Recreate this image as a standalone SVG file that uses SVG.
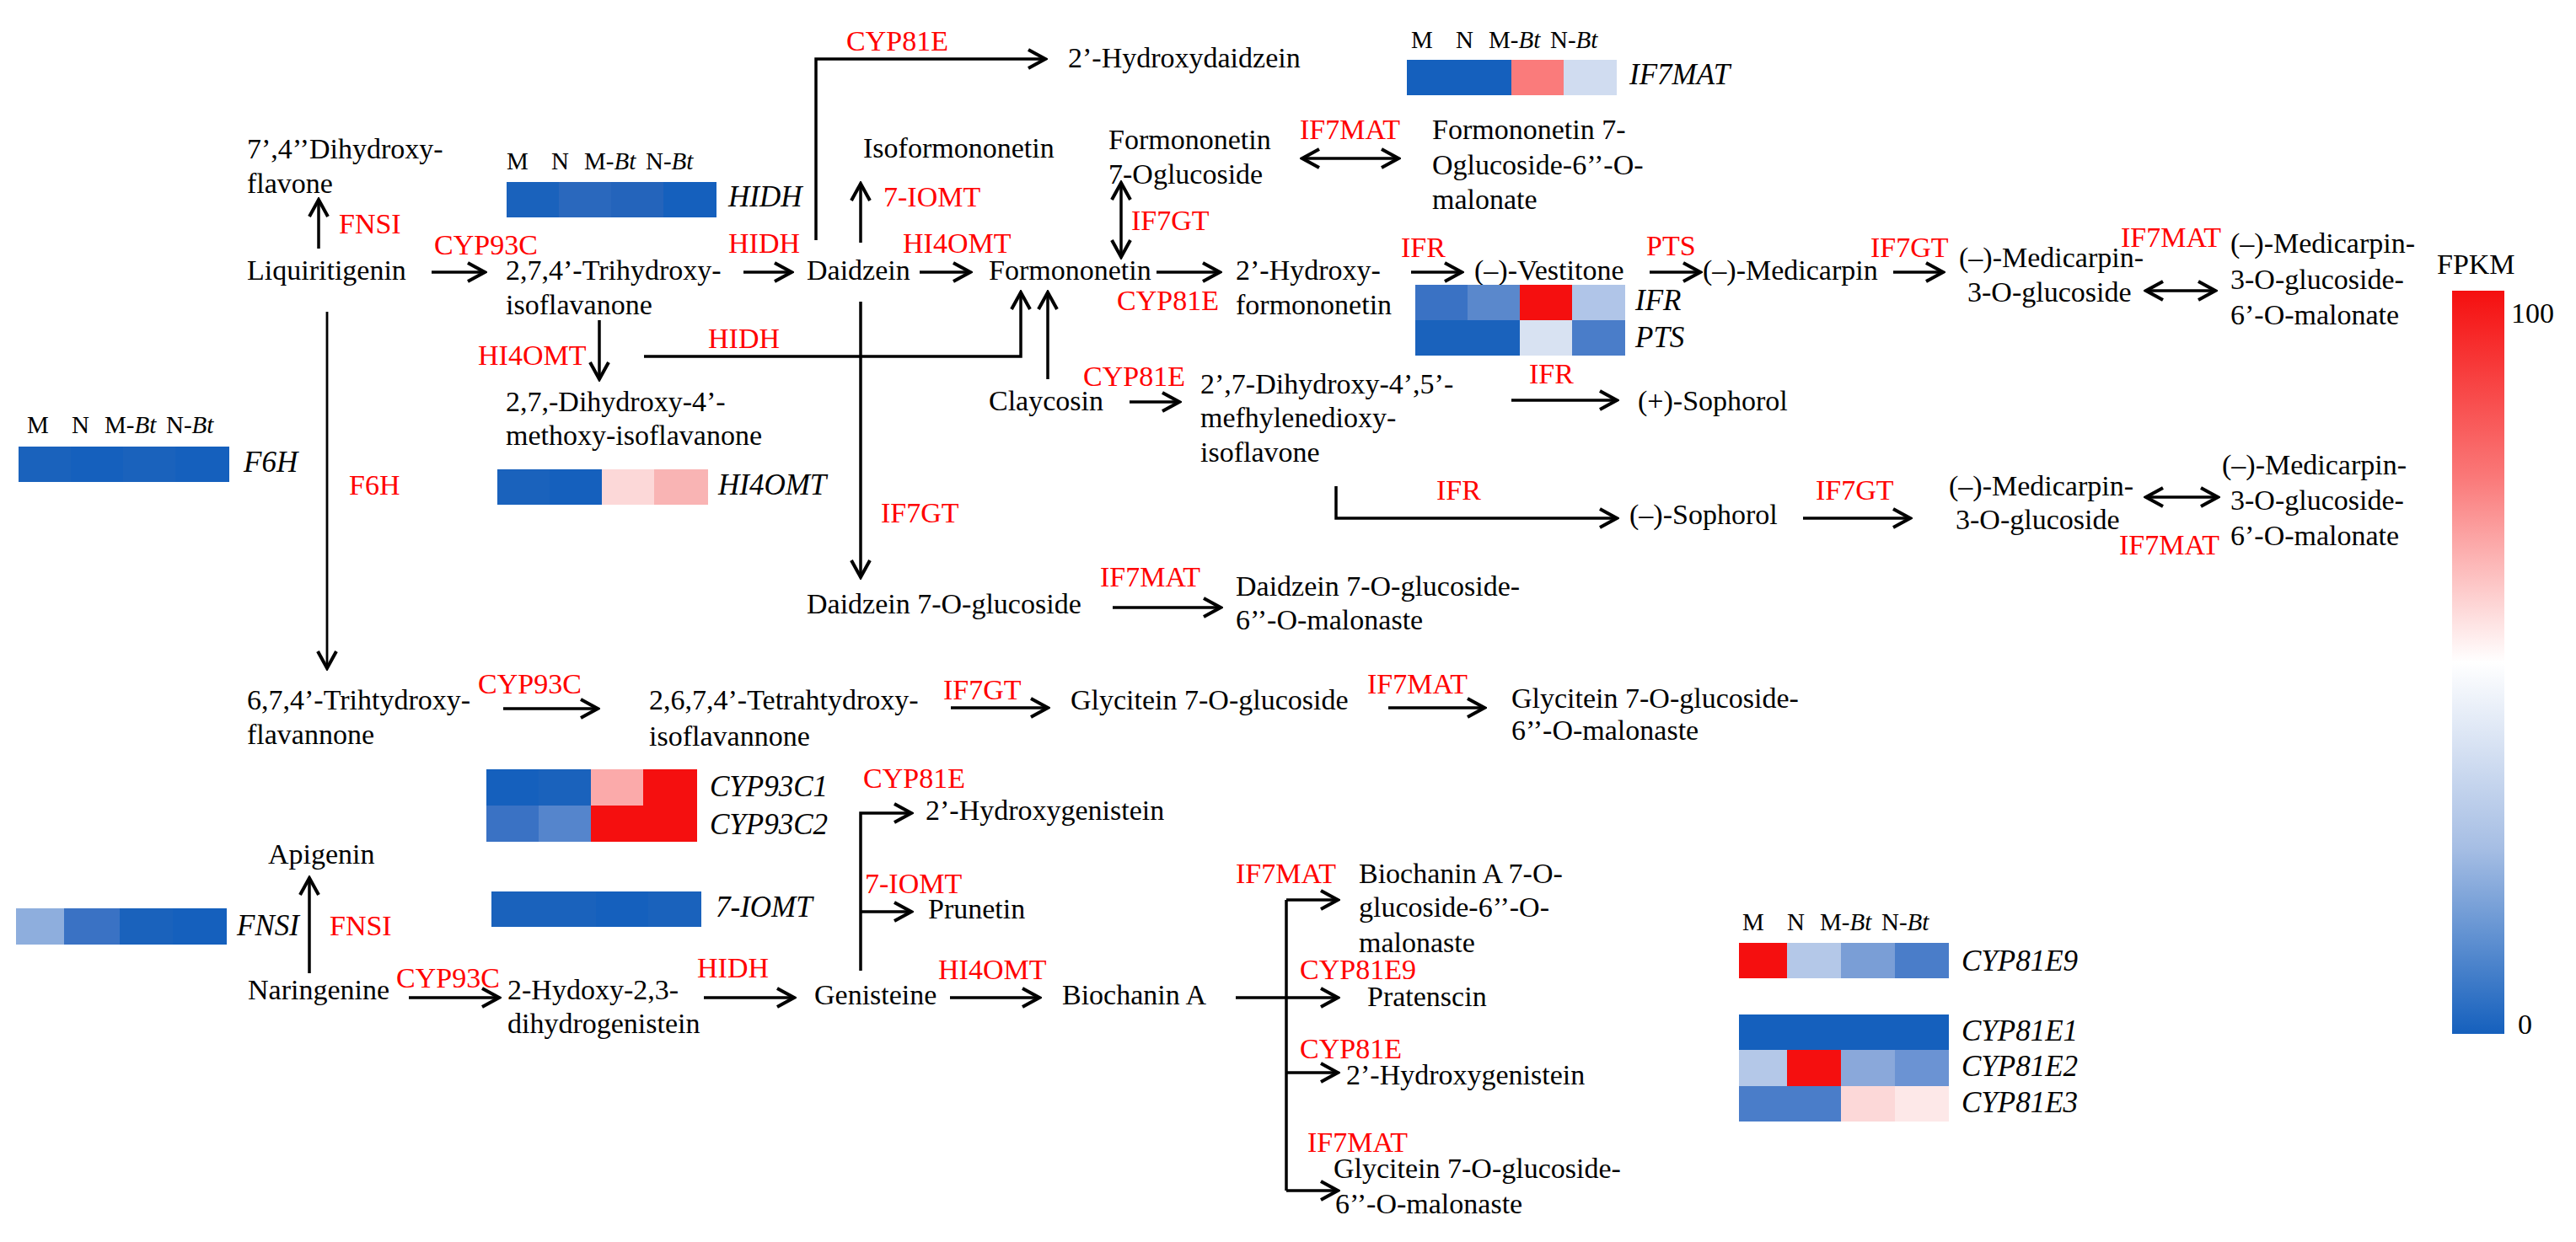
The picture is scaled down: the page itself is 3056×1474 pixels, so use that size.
<svg xmlns="http://www.w3.org/2000/svg" width="3056" height="1474" viewBox="0 0 3056 1474" font-family="Liberation Serif" font-size="34">
<style>
text{font-family:"Liberation Serif","Times New Roman",serif;font-size:34px}
.t{fill:#000}
.e{fill:#ff0000}
.g{font-style:italic;font-size:35px;fill:#000}
.h{font-size:29px;fill:#000}
.i{font-style:italic}
.c{fill:none;stroke:#000;stroke-width:3.5}
.a{marker-end:url(#ah)}
.d{marker-start:url(#ah);marker-end:url(#ah)}
</style>
<defs>
<marker id="ah" markerUnits="userSpaceOnUse" markerWidth="26" markerHeight="28" viewBox="0 0 26 28" refX="23" refY="14" orient="auto-start-reverse">
<path d="M3,3 L23,14 L3,25" fill="none" stroke="#000" stroke-width="4"/>
</marker>
<linearGradient id="fpkm" x1="0" y1="0" x2="0" y2="1">
<stop offset="0" stop-color="#f50f0f"/>
<stop offset="0.25" stop-color="#fa7878"/>
<stop offset="0.5" stop-color="#ffffff"/>
<stop offset="0.75" stop-color="#a6bee4"/>
<stop offset="1" stop-color="#1560bd"/>
</linearGradient>
</defs>
<rect width="3056" height="1474" fill="#fff"/>

<g id="connectors">
<path class="c a" d="M378,295 V237"/>
<path class="c a" d="M512,323 H575"/>
<path class="c a" d="M882,323 H939"/>
<path class="c a" d="M1091,323 H1151"/>
<path class="c a" d="M1372,323 H1447"/>
<path class="c a" d="M1674,323 H1734"/>
<path class="c a" d="M1957,323 H2017"/>
<path class="c a" d="M2246,323 H2305"/>
<path class="c d" d="M2546,345 H2628"/>
<path class="c a" d="M968,285 V70 H1240"/>
<path class="c a" d="M1021,288 V218"/>
<path class="c d" d="M1330,305 V217"/>
<path class="c d" d="M1545,188 H1659"/>
<path class="c a" d="M711,380 V450"/>
<path class="c a" d="M764,423 H1211 V347"/>
<path class="c a" d="M1243,450 V347"/>
<path class="c a" d="M1340,477 H1399"/>
<path class="c a" d="M1793,475 H1918"/>
<path class="c a" d="M1585,577 V615 H1918"/>
<path class="c a" d="M2139,615 H2266"/>
<path class="c d" d="M2546,590 H2631"/>
<path class="c a" d="M1021,358 V685"/>
<path class="c a" d="M1320,721 H1448"/>
<path class="c a" d="M388,370 V793" style="stroke-width:2.8"/>
<path class="c a" d="M597,841 H709"/>
<path class="c a" d="M1128,840 H1243"/>
<path class="c a" d="M1647,840 H1761"/>
<path class="c a" d="M367,1155 V1042"/>
<path class="c a" d="M485,1184 H592"/>
<path class="c a" d="M835,1184 H942"/>
<path class="c a" d="M1021,1152 V965 H1081"/>
<path class="c a" d="M1021,1082 H1081"/>
<path class="c a" d="M1127,1184 H1233"/>
<path class="c a" d="M1466,1184 H1587"/>
<path class="c" d="M1526,1068 V1413"/>
<path class="c a" d="M1526,1068 H1587"/>
<path class="c a" d="M1526,1273 H1587"/>
<path class="c a" d="M1526,1413 H1587"/>
</g>

<g id="enzyme-labels" fill="#ff0000">
<text class="e" x="402" y="277">FNSI</text>
<text class="e" x="515" y="302">CYP93C</text>
<text class="e" x="864" y="300">HIDH</text>
<text class="e" x="1071" y="300">HI4OMT</text>
<text class="e" x="1004" y="60">CYP81E</text>
<text class="e" x="1048" y="245">7-IOMT</text>
<text class="e" x="1342" y="273">IF7GT</text>
<text class="e" x="1325" y="368">CYP81E</text>
<text class="e" x="1542" y="165">IF7MAT</text>
<text class="e" x="1662" y="305">IFR</text>
<text class="e" x="1953" y="303">PTS</text>
<text class="e" x="2219" y="305">IF7GT</text>
<text class="e" x="2516" y="293">IF7MAT</text>
<text class="e" x="567" y="433">HI4OMT</text>
<text class="e" x="840" y="413">HIDH</text>
<text class="e" x="1285" y="458">CYP81E</text>
<text class="e" x="1814" y="455">IFR</text>
<text class="e" x="414" y="587">F6H</text>
<text class="e" x="1045" y="620">IF7GT</text>
<text class="e" x="1704" y="593">IFR</text>
<text class="e" x="2154" y="593">IF7GT</text>
<text class="e" x="2514" y="658">IF7MAT</text>
<text class="e" x="1305" y="696">IF7MAT</text>
<text class="e" x="567" y="823">CYP93C</text>
<text class="e" x="1119" y="830">IF7GT</text>
<text class="e" x="1622" y="823">IF7MAT</text>
<text class="e" x="1024" y="935">CYP81E</text>
<text class="e" x="1026" y="1060">7-IOMT</text>
<text class="e" x="391" y="1110">FNSI</text>
<text class="e" x="470" y="1172">CYP93C</text>
<text class="e" x="827" y="1160">HIDH</text>
<text class="e" x="1113" y="1162">HI4OMT</text>
<text class="e" x="1466" y="1048">IF7MAT</text>
<text class="e" x="1542" y="1162">CYP81E9</text>
<text class="e" x="1542" y="1256">CYP81E</text>
<text class="e" x="1551" y="1367">IF7MAT</text>
</g>

<g id="compounds" fill="#000">
<g id="n-dihydroxyflavone"><text class="t" x="293" y="188">7’,4’’Dihydroxy-<tspan x="293" dy="41">flavone</tspan></text></g>
<g id="n-liquiritigenin"><text class="t" x="293" y="332">Liquiritigenin</text></g>
<g id="n-trihydroxyisoflavanone"><text class="t" x="600" y="332">2,7,4’-Trihydroxy-<tspan x="600" dy="41">isoflavanone</tspan></text></g>
<g id="n-methoxyisoflavanone"><text class="t" x="600" y="488">2,7,-Dihydroxy-4’-<tspan x="600" dy="40">methoxy-isoflavanone</tspan></text></g>
<g id="n-daidzein"><text class="t" x="957" y="332">Daidzein</text></g>
<g id="n-isoformononetin"><text class="t" x="1024" y="187">Isoformononetin</text></g>
<g id="n-hydroxydaidzein"><text class="t" x="1267" y="80">2’-Hydroxydaidzein</text></g>
<g id="n-formononetin"><text class="t" x="1173" y="332">Formononetin</text></g>
<g id="n-formononetin-glucoside"><text class="t" x="1315" y="177">Formononetin<tspan x="1315" dy="41">7-Oglucoside</tspan></text></g>
<g id="n-formononetin-malonate"><text class="t" x="1699" y="165">Formononetin 7-<tspan x="1699" dy="42">Oglucoside-6’’-O-</tspan><tspan x="1699" dy="41">malonate</tspan></text></g>
<g id="n-hydroxyformononetin"><text class="t" x="1466" y="332">2’-Hydroxy-<tspan x="1466" dy="41">formononetin</tspan></text></g>
<g id="n-vestitone"><text class="t" x="1749" y="332">(–)-Vestitone</text></g>
<g id="n-medicarpin"><text class="t" x="2020" y="332">(–)-Medicarpin</text></g>
<g id="n-medicarpin-glucoside-1"><text class="t" x="2324" y="317">(–)-Medicarpin-<tspan x="2334" dy="41">3-O-glucoside</tspan></text></g>
<g id="n-medicarpin-malonate-1"><text class="t" x="2646" y="300">(–)-Medicarpin-<tspan x="2646" dy="43">3-O-glucoside-</tspan><tspan x="2646" dy="42">6’-O-malonate</tspan></text></g>
<g id="n-claycosin"><text class="t" x="1173" y="487">Claycosin</text></g>
<g id="n-methylenedioxyisoflavone"><text class="t" x="1424" y="467">2’,7-Dihydroxy-4’,5’-<tspan x="1424" dy="40">mefhylenedioxy-</tspan><tspan x="1424" dy="41">isoflavone</tspan></text></g>
<g id="n-sophorol-plus"><text class="t" x="1943" y="487">(+)-Sophorol</text></g>
<g id="n-sophorol-minus"><text class="t" x="1933" y="622">(–)-Sophorol</text></g>
<g id="n-medicarpin-glucoside-2"><text class="t" x="2312" y="588">(–)-Medicarpin-<tspan x="2320" dy="40">3-O-glucoside</tspan></text></g>
<g id="n-medicarpin-malonate-2"><text class="t" x="2636" y="563">(–)-Medicarpin-<tspan x="2646" dy="42">3-O-glucoside-</tspan><tspan x="2646" dy="42">6’-O-malonate</tspan></text></g>
<g id="n-daidzein-glucoside"><text class="t" x="957" y="728">Daidzein 7-O-glucoside</text></g>
<g id="n-daidzein-malonaste"><text class="t" x="1466" y="707">Daidzein 7-O-glucoside-<tspan x="1466" dy="40">6’’-O-malonaste</tspan></text></g>
<g id="n-trihydroxyflavannone"><text class="t" x="293" y="842">6,7,4’-Trihtydroxy-<tspan x="293" dy="41">flavannone</tspan></text></g>
<g id="n-tetrahydroxyisoflavannone"><text class="t" x="770" y="842">2,6,7,4’-Tetrahtydroxy-<tspan x="770" dy="43">isoflavannone</tspan></text></g>
<g id="n-glycitein-glucoside"><text class="t" x="1270" y="842">Glycitein 7-O-glucoside</text></g>
<g id="n-glycitein-malonaste-1"><text class="t" x="1793" y="840">Glycitein 7-O-glucoside-<tspan x="1793" dy="38">6’’-O-malonaste</tspan></text></g>
<g id="n-hydroxygenistein-1"><text class="t" x="1098" y="973">2’-Hydroxygenistein</text></g>
<g id="n-apigenin"><text class="t" x="318" y="1025">Apigenin</text></g>
<g id="n-prunetin"><text class="t" x="1101" y="1090">Prunetin</text></g>
<g id="n-naringenine"><text class="t" x="294" y="1186">Naringenine</text></g>
<g id="n-dihydrogenistein"><text class="t" x="602" y="1186">2-Hydoxy-2,3-<tspan x="602" dy="40">dihydrogenistein</tspan></text></g>
<g id="n-genisteine"><text class="t" x="966" y="1192">Genisteine</text></g>
<g id="n-biochanin"><text class="t" x="1260" y="1192">Biochanin A</text></g>
<g id="n-biochanin-malonaste"><text class="t" x="1612" y="1048">Biochanin A 7-O-<tspan x="1612" dy="40">glucoside-6’’-O-</tspan><tspan x="1612" dy="42">malonaste</tspan></text></g>
<g id="n-pratenscin"><text class="t" x="1622" y="1194">Pratenscin</text></g>
<g id="n-hydroxygenistein-2"><text class="t" x="1597" y="1287">2’-Hydroxygenistein</text></g>
<g id="n-glycitein-malonaste-2"><text class="t" x="1582" y="1398">Glycitein 7-O-glucoside-<tspan x="1584" dy="42">6’’-O-malonaste</tspan></text></g>
</g>

<g id="heatmaps">
<g id="hm-HIDH" transform="translate(601,216)">
<text class="h" x="0" y="-15">M<tspan x="53">N</tspan><tspan x="92">M-<tspan class="i">Bt</tspan></tspan><tspan x="165">N-<tspan class="i">Bt</tspan></tspan></text>
<rect x="0" y="0" width="63" height="42" fill="#1a62bc"/><rect x="62" y="0" width="63" height="42" fill="#2a68bd"/><rect x="124" y="0" width="63" height="42" fill="#2464bb"/><rect x="186" y="0" width="63" height="42" fill="#1560bd"/>
<text class="g" x="263" y="29">HIDH</text>
</g>
<g id="hm-IF7MAT" transform="translate(1669,71)">
<text class="h" x="5" y="-14">M<tspan x="58">N</tspan><tspan x="97">M-<tspan class="i">Bt</tspan></tspan><tspan x="170">N-<tspan class="i">Bt</tspan></tspan></text>
<rect x="0" y="0" width="63" height="42" fill="#1560bd"/><rect x="62" y="0" width="63" height="42" fill="#1560bd"/><rect x="124" y="0" width="63" height="42" fill="#fa7b7b"/><rect x="186" y="0" width="63" height="42" fill="#d0dcf0"/>
<text class="g" x="264" y="29">IF7MAT</text>
</g>
<g id="hm-IFR-PTS" transform="translate(1679,338)">
<rect x="0" y="0" width="63" height="42" fill="#3a72c4"/><rect x="62" y="0" width="63" height="42" fill="#5a88cc"/><rect x="124" y="0" width="63" height="42" fill="#f50f0f"/><rect x="186" y="0" width="63" height="42" fill="#b0c5e8"/>
<rect x="0" y="42" width="63" height="42" fill="#1a62bc"/><rect x="62" y="42" width="63" height="42" fill="#1a62bc"/><rect x="124" y="42" width="63" height="42" fill="#d8e2f2"/><rect x="186" y="42" width="63" height="42" fill="#4a7dc9"/>
<text class="g" x="261" y="30">IFR</text>
<text class="g" x="261" y="74">PTS</text>
</g>
<g id="hm-F6H" transform="translate(22,530)">
<text class="h" x="10" y="-16">M<tspan x="63">N</tspan><tspan x="102">M-<tspan class="i">Bt</tspan></tspan><tspan x="175">N-<tspan class="i">Bt</tspan></tspan></text>
<rect x="0" y="0" width="63" height="42" fill="#1a62bc"/><rect x="62" y="0" width="63" height="42" fill="#1560bd"/><rect x="124" y="0" width="63" height="42" fill="#1a62bc"/><rect x="186" y="0" width="64" height="42" fill="#1560bd"/>
<text class="g" x="267" y="30">F6H</text>
</g>
<g id="hm-HI4OMT" transform="translate(590,557)">
<rect x="0" y="0" width="63" height="42" fill="#1a62bc"/><rect x="62" y="0" width="63" height="42" fill="#1560bd"/><rect x="124" y="0" width="63" height="42" fill="#fcd8d8"/><rect x="186" y="0" width="64" height="42" fill="#f9b4b4"/>
<text class="g" x="262" y="30">HI4OMT</text>
</g>
<g id="hm-CYP93C" transform="translate(577,913)">
<rect x="0" y="0" width="63" height="43" fill="#1560bd"/><rect x="62" y="0" width="63" height="43" fill="#1a62bc"/><rect x="124" y="0" width="63" height="43" fill="#fbaaaa"/><rect x="186" y="0" width="64" height="43" fill="#f50f0f"/>
<rect x="0" y="43" width="63" height="43" fill="#3a72c4"/><rect x="62" y="43" width="63" height="43" fill="#5585cc"/><rect x="124" y="43" width="63" height="43" fill="#f50f0f"/><rect x="186" y="43" width="64" height="43" fill="#f50f0f"/>
<text class="g" x="265" y="32">CYP93C1</text>
<text class="g" x="265" y="77">CYP93C2</text>
</g>
<g id="hm-7IOMT" transform="translate(583,1058)">
<rect x="0" y="0" width="63" height="42" fill="#1a62bc"/><rect x="62" y="0" width="63" height="42" fill="#1a62bc"/><rect x="124" y="0" width="63" height="42" fill="#1560bd"/><rect x="186" y="0" width="63" height="42" fill="#1a62bc"/>
<text class="g" x="266" y="30">7-IOMT</text>
</g>
<g id="hm-FNSI" transform="translate(19,1078)">
<rect x="0" y="0" width="58" height="43" fill="#8eaedd"/><rect x="57" y="0" width="67" height="43" fill="#3a72c4"/><rect x="123" y="0" width="64" height="43" fill="#1a62bc"/><rect x="186" y="0" width="64" height="43" fill="#1560bd"/>
<text class="g" x="262" y="32">FNSI</text>
</g>
<g id="hm-CYP81E9" transform="translate(2063,1119)">
<text class="h" x="4" y="-15">M<tspan x="57">N</tspan><tspan x="96">M-<tspan class="i">Bt</tspan></tspan><tspan x="169">N-<tspan class="i">Bt</tspan></tspan></text>
<rect x="0" y="0" width="58" height="42" fill="#f50f0f"/><rect x="57" y="0" width="65" height="42" fill="#b4c8e8"/><rect x="121" y="0" width="65" height="42" fill="#7a9ed6"/><rect x="185" y="0" width="64" height="42" fill="#4a7dc9"/>
<text class="g" x="264" y="33">CYP81E9</text>
</g>
<g id="hm-CYP81E" transform="translate(2063,1204)">
<rect x="0" y="0" width="249" height="43" fill="#1560bd"/>
<rect x="0" y="42" width="58" height="43" fill="#b4c8e8"/><rect x="57" y="42" width="65" height="43" fill="#f50f0f"/><rect x="121" y="42" width="65" height="43" fill="#8aa8da"/><rect x="185" y="42" width="64" height="43" fill="#6b93d3"/>
<rect x="0" y="85" width="58" height="42" fill="#4a7dc9"/><rect x="57" y="85" width="65" height="42" fill="#4a7dc9"/><rect x="121" y="85" width="65" height="42" fill="#fcd8d8"/><rect x="185" y="85" width="64" height="42" fill="#fde8e8"/>
<text class="g" x="264" y="31">CYP81E1</text>
<text class="g" x="264" y="73">CYP81E2</text>
<text class="g" x="264" y="116">CYP81E3</text>
</g>
</g>
<g id="legend">
<text class="t" x="2891" y="325">FPKM</text>
<rect x="2909" y="345" width="62" height="882" fill="url(#fpkm)"/>
<text class="t" x="2979" y="383">100</text>
<text class="t" x="2987" y="1227">0</text>
</g>
</svg>
